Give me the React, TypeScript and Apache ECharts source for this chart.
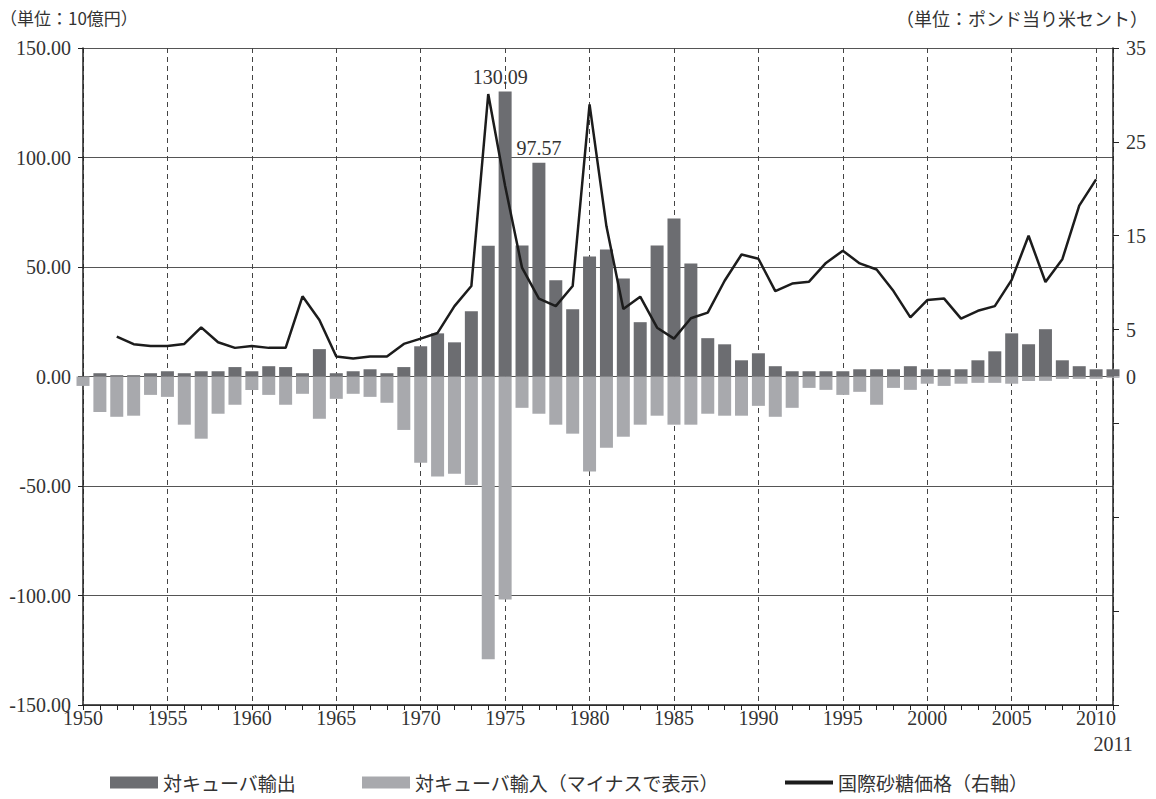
import React, { useEffect, useRef } from 'react';
import * as echarts from 'echarts';

const years = [
  1950, 1951, 1952, 1953, 1954, 1955, 1956, 1957, 1958, 1959,
  1960, 1961, 1962, 1963, 1964, 1965, 1966, 1967, 1968, 1969,
  1970, 1971, 1972, 1973, 1974, 1975, 1976, 1977, 1978, 1979,
  1980, 1981, 1982, 1983, 1984, 1985, 1986, 1987, 1988, 1989,
  1990, 1991, 1992, 1993, 1994, 1995, 1996, 1997, 1998, 1999,
  2000, 2001, 2002, 2003, 2004, 2005, 2006, 2007, 2008, 2009,
  2010, 2011,
];

// 対キューバ輸出 (10億円)
const exportsToCuba = [
  0, 1.5, 0.6, 0.6, 1.5, 2.4, 1.5, 2.4, 2.4, 4.3,
  2.4, 4.7, 4.3, 1.5, 12.5, 1.5, 2.4, 3.3, 1.5, 4.3,
  13.8, 19.7, 15.6, 29.8, 59.7, 130.09, 59.8, 97.57, 44.0, 30.7,
  54.8, 58.0, 44.8, 24.8, 59.8, 72.1, 51.6, 17.5, 14.7, 7.4,
  10.6, 4.7, 2.4, 2.4, 2.4, 2.4, 3.3, 3.3, 3.3, 4.7,
  3.3, 3.3, 3.3, 7.4, 11.5, 19.7, 14.7, 21.6, 7.4, 4.7,
  3.3, 3.3,
];

// 対キューバ輸入 (マイナスで表示, 10億円)
const importsFromCuba = [
  -4.3, -16.2, -18.4, -17.9, -8.4, -9.3, -22.0, -28.4, -17.0, -12.9,
  -6.2, -8.4, -12.9, -7.9, -19.3, -10.2, -7.9, -9.3, -12.0, -24.4,
  -39.4, -45.7, -44.4, -49.5, -129.1, -101.8, -14.3, -17.0, -22.0, -26.1,
  -43.4, -32.5, -27.5, -22.0, -17.9, -22.0, -22.0, -17.0, -17.9, -17.9,
  -13.4, -18.4, -14.3, -5.2, -6.1, -8.4, -7.0, -12.9, -5.2, -6.1,
  -3.3, -4.3, -3.3, -2.9, -2.9, -3.3, -2.0, -2.0, -1.1, -1.1,
  -1.1, -0.6,
];

// 国際砂糖価格 (ポンド当り米セント)
const sugarPrice = [
  null, null, 4.26, 3.44, 3.26, 3.26, 3.47, 5.24, 3.65, 3.05,
  3.26, 3.05, 3.05, 8.54, 6.03, 2.12, 1.91, 2.12, 2.12, 3.47,
  4.04, 4.64, 7.5, 9.64, 30.1, 20.3, 11.6, 8.3, 7.5, 9.64,
  29.0, 16.0, 7.18, 8.5, 5.2, 4.04, 6.2, 6.8, 10.2, 13.0,
  12.55, 9.1, 9.9, 10.1, 12.1, 13.4, 12.05, 11.4, 9.1, 6.3,
  8.15, 8.3, 6.17, 7.0, 7.5, 10.3, 15.0, 10.07, 12.5, 18.2,
  21.0, null,
];

const seriesNames = ['対キューバ輸出', '対キューバ輸入（マイナスで表示）', '国際砂糖価格（右軸）'];
const unitLeft = '（単位：10億円）';
const unitRight = '（単位：ポンド当り米セント）';
const labeledYears = [1975, 1977];
const xMainLabels = [1950, 1955, 1960, 1965, 1970, 1975, 1980, 1985, 1990, 1995, 2000, 2005, 2010];
const xEndLabel = [2011];
const rightLabelValues = [0, 5, 15, 25, 35];

const numFont = "'Liberation Serif', 'Noto Sans CJK JP', serif";
const jpFont = "'Noto Sans CJK JP', sans-serif";
const textColor = '#333333';
const axisColor = '#222222';

export default function App() {
  const ref = useRef<HTMLDivElement>(null);

  useEffect(() => {
    document.body.style.margin = '0';
    const chart = echarts.init(ref.current as HTMLDivElement, null, { renderer: 'svg' });

    const option: any = {
      animation: false,
      textStyle: { fontFamily: numFont },
      title: [
        {
          text: unitLeft,
          left: 0,
          top: 9,
          padding: 0,
          textStyle: { fontFamily: jpFont, fontSize: 17, fontWeight: 'normal', color: textColor },
        },
        {
          text: unitRight,
          right: 8,
          top: 9,
          padding: 0,
          textStyle: { fontFamily: jpFont, fontSize: 18, fontWeight: 'normal', color: textColor },
        },
      ],
      grid: { left: 83, top: 48, width: 1030, height: 657, containLabel: false },
      legend: {
        left: 110,
        top: 773,
        padding: 0,
        itemWidth: 48,
        itemHeight: 12,
        itemGap: 66,
        textStyle: { fontFamily: jpFont, fontSize: 19, color: textColor },
        data: [
          { name: seriesNames[0], icon: 'rect' },
          { name: seriesNames[1], icon: 'rect' },
          { name: seriesNames[2], icon: 'path://M0,0H48V4H0Z' },
        ],
      },
      xAxis: [
        {
          type: 'value',
          min: 1950,
          max: 2011,
          interval: 5,
          position: 'bottom',
          axisLine: { show: true, onZero: false, lineStyle: { color: axisColor, width: 1.5 } },
          axisTick: { show: false },
          axisLabel: {
            customValues: xMainLabels,
            fontSize: 20,
            margin: 3,
            color: textColor,
            formatter: (v: number) => String(v),
          },
          splitLine: { show: true, lineStyle: { type: [5, 4], color: '#444444', width: 1 } },
        },
        {
          type: 'value',
          min: 1950,
          max: 2011,
          interval: 1,
          position: 'bottom',
          axisLine: { show: false, onZero: false },
          axisTick: { show: true, length: 5, lineStyle: { color: axisColor, width: 1 } },
          axisLabel: {
            customValues: xEndLabel,
            fontSize: 20,
            margin: 29,
            color: textColor,
            formatter: (v: number) => String(v),
          },
          splitLine: { show: false },
        },
      ],
      yAxis: [
        {
          type: 'value',
          min: -150,
          max: 150,
          interval: 50,
          position: 'left',
          axisLine: { show: true, lineStyle: { color: axisColor, width: 1.5 } },
          axisTick: { show: true, length: 5, lineStyle: { color: axisColor } },
          axisLabel: {
            fontSize: 20,
            margin: 12,
            color: textColor,
            formatter: (v: number) => v.toFixed(2),
          },
          splitLine: { show: true, lineStyle: { color: '#555555', width: 1 } },
        },
        {
          type: 'value',
          min: -35,
          max: 35,
          interval: 10,
          position: 'right',
          axisLine: { show: true, lineStyle: { color: axisColor, width: 1.5 } },
          axisTick: { show: true, length: 6, lineStyle: { color: axisColor } },
          axisLabel: {
            customValues: rightLabelValues,
            fontSize: 20,
            margin: 13,
            color: textColor,
            formatter: (v: number) => String(v),
          },
          splitLine: { show: false },
        },
      ],
      series: [
        {
          name: seriesNames[0],
          type: 'bar',
          xAxisIndex: 0,
          yAxisIndex: 0,
          barWidth: 13,
          barGap: '-100%',
          clip: false,
          itemStyle: { color: '#6c6d71' },
          data: years.map((y, i) => {
            const item: any = { value: [y, exportsToCuba[i]] };
            if (labeledYears.includes(y)) {
              item.label = {
                show: true,
                position: 'top',
                distance: 5,
                offset: y === 1975 ? [-5, 0] : [0, 0],
                fontSize: 20,
                fontFamily: numFont,
                color: textColor,
                formatter: (p: any) => Number(p.value[1]).toFixed(2),
              };
            }
            return item;
          }),
        },
        {
          name: seriesNames[1],
          type: 'bar',
          xAxisIndex: 0,
          yAxisIndex: 0,
          barWidth: 13,
          barGap: '-100%',
          clip: false,
          itemStyle: { color: '#a8a9ad' },
          data: years.map((y, i) => [y, importsFromCuba[i]]),
        },
        {
          name: seriesNames[2],
          type: 'line',
          xAxisIndex: 0,
          yAxisIndex: 1,
          symbol: 'none',
          z: 5,
          lineStyle: { color: '#1c1c1c', width: 2.5 },
          itemStyle: { color: '#1c1c1c' },
          data: years.map((y, i) => [y, sugarPrice[i]]),
        },
      ],
    };

    chart.setOption(option);
    return () => chart.dispose();
  }, []);

  return <div ref={ref} style={{ width: 1156, height: 799 }} />;
}
